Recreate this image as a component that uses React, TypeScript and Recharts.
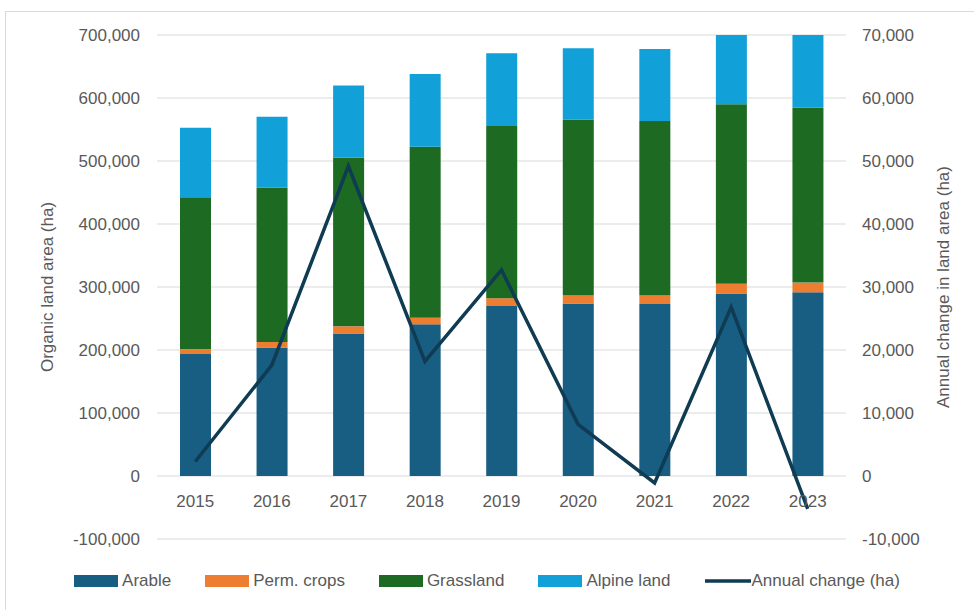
import React from 'react';
import { ComposedChart, Bar, Line, XAxis, YAxis, CartesianGrid, Legend } from 'recharts';

const years = ['2015', '2016', '2017', '2018', '2019', '2020', '2021', '2022', '2023'];
const arable = [193600, 204000, 226000, 240700, 270000, 274000, 273000, 289000, 291500];
const permCrops = [7400, 8700, 11600, 10300, 12000, 13000, 14000, 16000, 15500];
const grassland = [241300, 245300, 267400, 271700, 273500, 279000, 276500, 285000, 277600];
const alpineLand = [110600, 112400, 115000, 115300, 115500, 113000, 114300, 115000, 116000];
const annualChange = [2300, 17600, 49200, 18200, 32700, 8200, -1100, 26800, -5200];

const leftTicks = [-100000, 0, 100000, 200000, 300000, 400000, 500000, 600000, 700000];
const rightTicks = [-10000, 0, 10000, 20000, 30000, 40000, 50000, 60000, 70000];

const legendOrder = ['Arable', 'Perm. crops', 'Grassland', 'Alpine land', 'Annual change (ha)'];

const data = years.map((year, i) => ({
  year,
  arable: arable[i],
  perm: permCrops[i],
  grassland: grassland[i],
  alpine: alpineLand[i],
  change: annualChange[i],
}));

const FONT = '"Liberation Sans", Arial, sans-serif';
const GREY = '#595959';
const W = 974;
const H = 610;
const MARGIN = { top: 35, right: 0, bottom: 41, left: 0 };
const X_AXIS_H = 30;

// the category labels sit just under the zero line, like Excel does
const plotTop = MARGIN.top;
const plotBottom = H - MARGIN.bottom - X_AXIS_H;
const zeroY = plotTop + (plotBottom - plotTop) * (leftTicks[leftTicks.length - 1] / (leftTicks[leftTicks.length - 1] - leftTicks[0]));

const fmt = (v: number) => v.toLocaleString('en-US');

const YearTick = ({ x, payload }: any) => (
  <text x={x} y={zeroY + 25} textAnchor="middle" dominantBaseline="central" fill={GREY} fontSize={17} fontFamily={FONT}>
    {payload.value}
  </text>
);

const axisTitle = (text: string, dx: number) => ({ viewBox }: any) => {
  const cx = viewBox.x + dx;
  const cy = viewBox.y + viewBox.height / 2;
  return (
    <text x={cx} y={cy} transform={`rotate(-90 ${cx} ${cy})`} textAnchor="middle" dominantBaseline="central" fill={GREY} fontSize={17} fontFamily={FONT}>
      {text}
    </text>
  );
};

const LegendContent = ({ payload }: any) => {
  const items = [...(payload || [])].sort((a: any, b: any) => legendOrder.indexOf(a.value) - legendOrder.indexOf(b.value));
  return (
    <div style={{ display: 'flex', justifyContent: 'center', alignItems: 'center', gap: 34, fontFamily: FONT, fontSize: 17, color: GREY }}>
      {items.map((entry: any) => (
        <div key={entry.value} style={{ display: 'flex', alignItems: 'center' }}>
          {entry.type === 'line' ? (
            <svg width={46} height={12}>
              <line x1={0} y1={6} x2={46} y2={6} stroke={entry.color} strokeWidth={3.5} />
            </svg>
          ) : (
            <div style={{ width: 44, height: 12, background: entry.color }} />
          )}
          <span style={{ marginLeft: entry.type === 'line' ? 1 : 4 }}>{entry.value}</span>
        </div>
      ))}
    </div>
  );
};

export default function App() {
  return (
    <div style={{ position: 'fixed', left: 0, top: 0, width: W, height: H, background: '#fff', overflow: 'hidden' }}>
      <div style={{ position: 'absolute', left: 5, top: 11, width: W, height: H, border: '1px solid #d9d9d9' }} />
      <ComposedChart width={W} height={H} data={data} margin={MARGIN}>
        <CartesianGrid vertical={false} stroke="#d9d9d9" strokeWidth={1.2} yAxisId="left" />
        <XAxis dataKey="year" axisLine={false} tickLine={false} height={X_AXIS_H} tick={<YearTick />} interval={0} />
        <YAxis
          yAxisId="left"
          width={157}
          domain={[-100000, 700000]}
          ticks={leftTicks}
          allowDataOverflow
          axisLine={false}
          tickLine={false}
          tickSize={0}
          tickMargin={17}
          tickFormatter={fmt}
          tick={{ fill: GREY, fontSize: 17, fontFamily: FONT }}
          label={axisTitle('Organic land area (ha)', 47)}
        />
        <YAxis
          yAxisId="right"
          orientation="right"
          width={128}
          domain={[-10000, 70000]}
          ticks={rightTicks}
          axisLine={false}
          tickLine={false}
          tickSize={0}
          tickMargin={16}
          tickFormatter={fmt}
          tick={{ fill: GREY, fontSize: 17, fontFamily: FONT }}
          label={axisTitle('Annual change in land area (ha)', 97)}
        />
        <Legend
          verticalAlign="middle"
          align="center"
          layout="horizontal"
          wrapperStyle={{ top: 571, left: 0, width: W }}
          content={<LegendContent />}
        />
        <Bar yAxisId="left" dataKey="arable" name="Arable" stackId="a" fill="#175e82" barSize={31} isAnimationActive={false} />
        <Bar yAxisId="left" dataKey="perm" name="Perm. crops" stackId="a" fill="#ed7d31" barSize={31} isAnimationActive={false} />
        <Bar yAxisId="left" dataKey="grassland" name="Grassland" stackId="a" fill="#1d6a23" barSize={31} isAnimationActive={false} />
        <Bar yAxisId="left" dataKey="alpine" name="Alpine land" stackId="a" fill="#11a0d7" barSize={31} isAnimationActive={false} />
        <Line
          yAxisId="right"
          dataKey="change"
          name="Annual change (ha)"
          type="linear"
          stroke="#0f3b53"
          strokeWidth={3.5}
          dot={false}
          activeDot={false}
          isAnimationActive={false}
        />
      </ComposedChart>
    </div>
  );
}
